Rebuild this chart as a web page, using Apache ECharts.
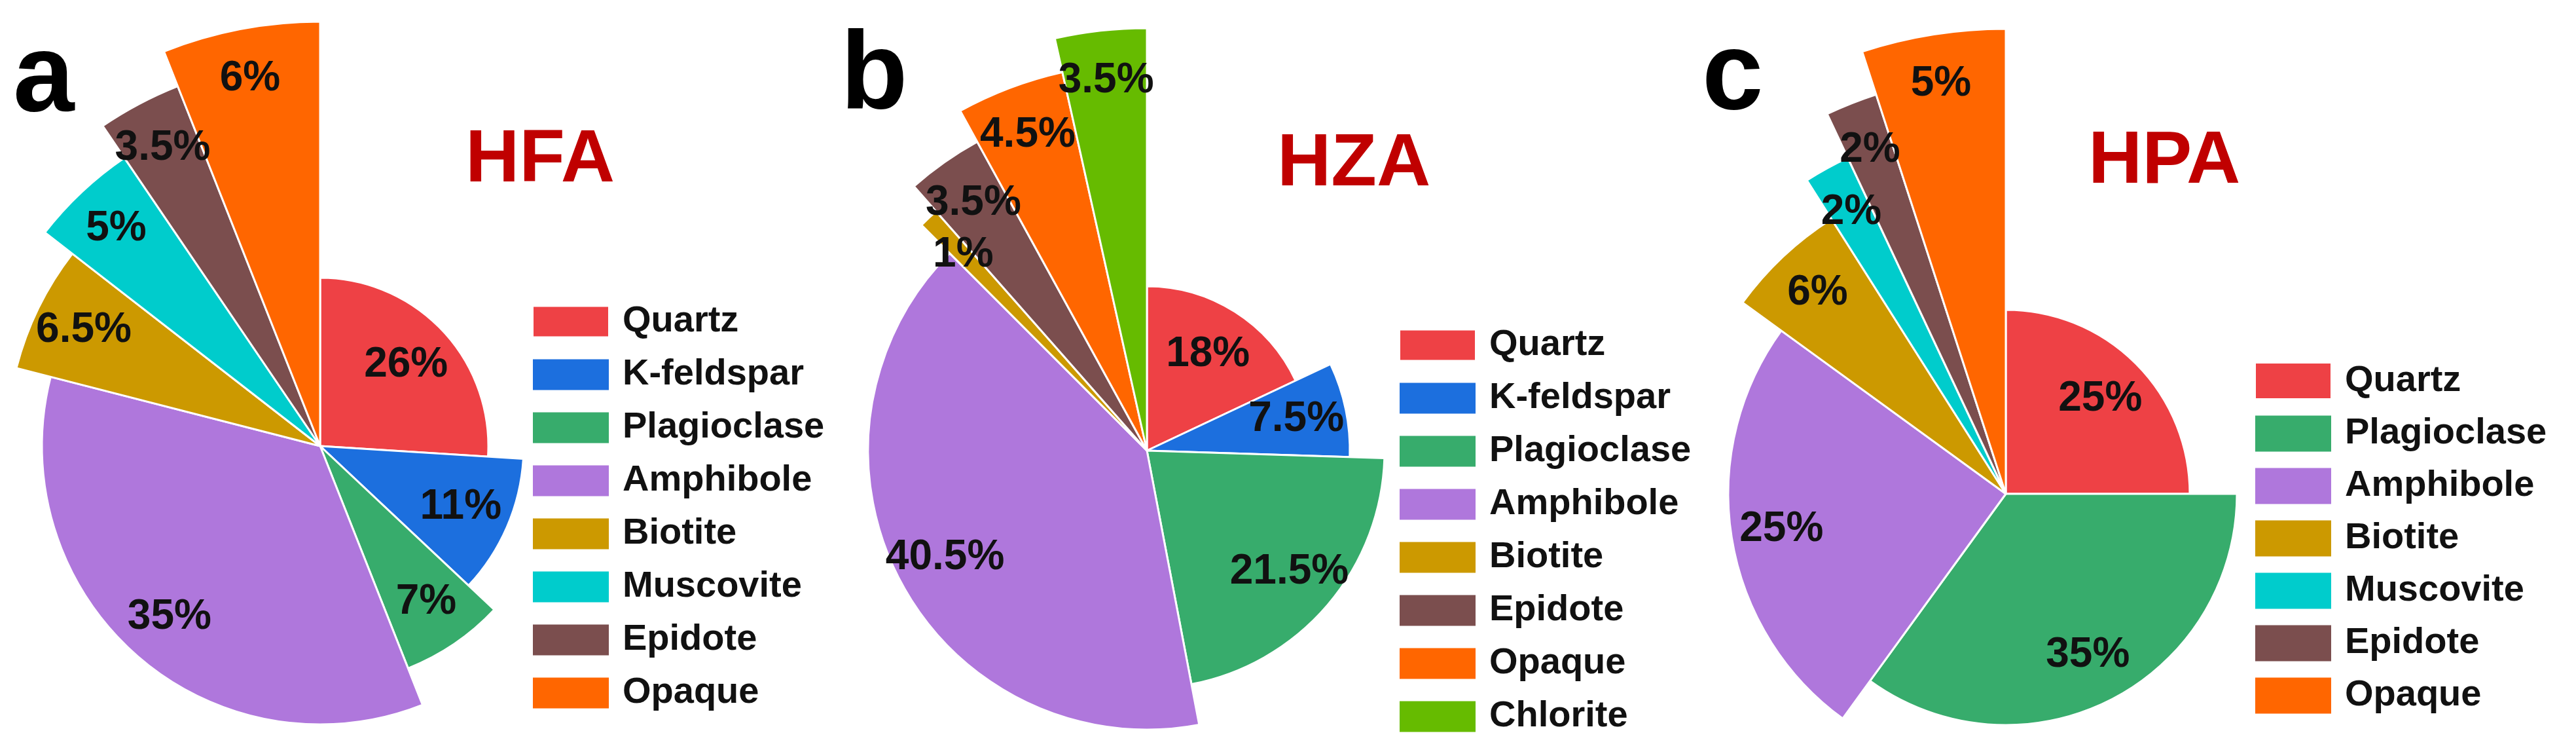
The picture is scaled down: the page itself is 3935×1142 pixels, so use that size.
<!DOCTYPE html>
<html><head><meta charset="utf-8">
<script src="https://cdn.jsdelivr.net/npm/echarts@6/dist/echarts.min.js"></script>
<style>html,body{margin:0;padding:0;background:#fff}#c{width:3935px;height:1142px}</style>
</head><body><div id="c"></div>
<script>
// ---- data ----
const namesA = ['Quartz','K-feldspar','Plagioclase','Amphibole','Biotite','Muscovite','Epidote','Opaque'];
const valuesA = [26, 11, 7, 35, 6.5, 5, 3.5, 6];
const namesB = ['Quartz','K-feldspar','Plagioclase','Amphibole','Biotite','Epidote','Opaque','Chlorite'];
const valuesB = [18, 7.5, 21.5, 40.5, 1, 3.5, 4.5, 3.5];
const namesC = ['Quartz','Plagioclase','Amphibole','Biotite','Muscovite','Epidote','Opaque'];
const valuesC = [25, 35, 25, 6, 2, 2, 5];
const titles = ['HFA','HZA','HPA'];
const letters = ['a','b','c'];

// ---- styles ----
const colors = {Quartz:'#EE4145','K-feldspar':'#1C6FDE',Plagioclase:'#37AC6C',Amphibole:'#AF77DC',
  Biotite:'#CC9900',Muscovite:'#00CCCC',Epidote:'#7B4E4E',Opaque:'#FF6600',Chlorite:'#66BB00'};
const panels = [
  {names:namesA, values:valuesA, cx:489, cy:681, radii:[257,311,365,425,479,532,591,648],
   legend:{left:808, top:458, gap:25, h:47}, title:{x:819,y:249}, letter:{x:20,y:189}},
  {names:namesB, values:valuesB, cx:1752, cy:688, radii:[251,310,363,426,487,538,592,645],
   legend:{left:2132, top:494, gap:25, h:47}, title:{x:2059,y:255}, letter:{x:1284,y:186}},
  {names:namesC, values:valuesC, cx:3064, cy:754, radii:[281,353,424,497,567,641,710],
   legend:{left:3439, top:548, gap:24, h:55}, title:{x:3298,y:251}, letter:{x:2600,y:186}}
];
const FONT = '"Liberation Sans", Arial, sans-serif';

const series = [], legends = [], graphics = [];
panels.forEach((p, pi) => {
  p.names.forEach((nm, i) => {
    series.push({
      type:'pie', center:[p.cx, p.cy], radius:[0, p.radii[i]], startAngle:90, clockwise:true,
      silent:true, animation:false, label:{show:false}, labelLine:{show:false},
      emphasis:{disabled:true}, z:2,
      data: p.names.map((n, j) => ({name:n, value:p.values[j],
        itemStyle: j === i ? {color:colors[n], borderColor:'#fff', borderWidth:3}
                           : {color:'rgba(0,0,0,0)', borderWidth:0}}))
    });
    const lr = Math.max(0.56 * p.radii[i], p.radii[i] - 80);
    series.push({
      type:'pie', center:[p.cx, p.cy], radius:[0, 2 * lr], startAngle:90, clockwise:true,
      silent:true, animation:false, labelLine:{show:false}, emphasis:{disabled:true}, z:5,
      label:{show:false},
      data: p.names.map((n, j) => ({name:n, value:p.values[j],
        itemStyle:{color:'rgba(0,0,0,0)', borderWidth:0},
        label: j === i ? {show:true, position:'inside', formatter: p.values[j] + '%',
          fontFamily:FONT, fontWeight:'bold', fontSize:64, color:'#111'} : {show:false}}))
    });
  });
  legends.push({
    left:p.legend.left, top:p.legend.top, height:900, orient:'vertical', icon:'rect',
    itemWidth:116, itemHeight:p.legend.h, itemGap:p.legend.gap, selectedMode:false,
    textStyle:{fontFamily:FONT, fontWeight:'bold', fontSize:56, color:'#111', padding:[0,0,0,16]},
    data: p.names.map(n => ({name:n, itemStyle:{color:colors[n]}}))
  });
  graphics.push({type:'text', left:p.title.x - 108, top:p.title.y - 60,
    style:{text:titles[pi], fontFamily:FONT, fontWeight:'bold', fontSize:114, fill:'#C00000'}});
  graphics.push({type:'text', left:p.letter.x, top:p.letter.y - 150,
    style:{text:letters[pi], fontFamily:FONT, fontWeight:'bold', fontSize:168, fill:'#000'}});
});

const chart = echarts.init(document.getElementById('c'));
chart.setOption({backgroundColor:'#fff', animation:false, series, legend:legends, graphic:graphics});
</script></body></html>
